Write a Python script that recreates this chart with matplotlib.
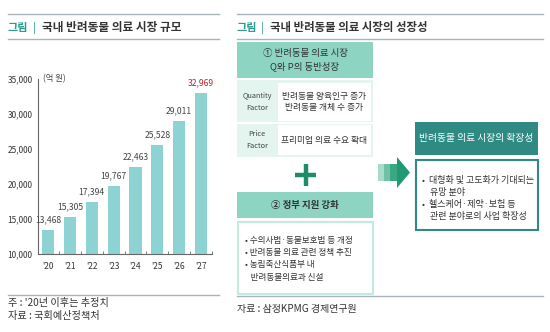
import matplotlib
matplotlib.use("Agg")
import matplotlib.pyplot as plt
from matplotlib.patches import Rectangle, Polygon

plt.rcParams['font.family'] = ['Noto Sans CJK KR', 'DejaVu Sans']

# 데이터
years = ["'20", "'21", "'22", "'23", "'24", "'25", "'26", "'27"]
market_size = [13468, 15305, 17394, 19767, 22463, 25528, 29011, 32969]
y_ticks = [10000, 15000, 20000, 25000, 30000, 35000]

bar_color = '#8DD3D3'
teal = '#2A9C92'
mint = '#8ED4C2'
mint_light = '#E4F5F0'
mint_border = '#C6E9DF'
dark_teal = '#2E8A83'
line_gray = '#A9B3B8'
txt = '#333333'

fig = plt.figure(figsize=(5.5, 3.32), dpi=100)

# 전체 캔버스 (픽셀 좌표)
bg = fig.add_axes([0, 0, 1, 1])
bg.set_xlim(0, 550)
bg.set_ylim(332, 0)
bg.axis('off')

# ---------- 왼쪽: 시장 규모 ----------
bg.plot([8, 219], [14, 14], color=line_gray, lw=1)
bg.plot([8, 219], [39, 39], color=line_gray, lw=1)
bg.text(8, 27.5, '그림', color=teal, fontsize=8, fontweight='bold', va='center')
bg.text(33, 27.5, '|', color=teal, fontsize=8, va='center')
bg.text(42, 27.5, '국내 반려동물 의료 시장 규모', color=txt, fontsize=8.4,
        fontweight='bold', va='center')
bg.plot([8, 219], [295, 295], color=line_gray, lw=1)
bg.text(8, 303, "주 : '20년 이후는 추정치", color=txt, fontsize=7.3, va='center')
bg.text(8, 316, '자료 : 국회예산정책처', color=txt, fontsize=7.3, va='center')

ax = fig.add_axes([38 / 550, 1 - 254 / 332, 174 / 550, 175 / 332])
x = list(range(len(years)))
ax.bar(x, market_size, width=0.55, color=bar_color, zorder=2)
ax.set_xlim(-0.46, 7.5)
ax.set_ylim(10000, 35000)
ax.set_yticks(y_ticks)
ax.set_yticklabels([f'{v:,}' for v in y_ticks])
ax.set_xticks(x)
ax.set_xticklabels(years)
ax.set_xticks([i + 0.5 for i in x], minor=True)
ax.tick_params(axis='x', which='major', length=0, pad=6, labelsize=6, colors=txt)
ax.tick_params(axis='x', which='minor', length=2.5, direction='in', color='#666666')
ax.tick_params(axis='y', length=0, pad=4, labelsize=6, colors=txt)
for s in ['top', 'right']:
    ax.spines[s].set_visible(False)
ax.spines['left'].set_color('#666666')
ax.spines['bottom'].set_color('#666666')
ax.spines['left'].set_linewidth(0.8)
ax.spines['bottom'].set_linewidth(0.8)
ax.patch.set_alpha(0)
for i, v in enumerate(market_size):
    c = '#B5282E' if i == len(market_size) - 1 else '#444444'
    ax.annotate(f'{v:,}', (i, v), xytext=(0, 4), textcoords='offset points',
                ha='center', va='bottom', fontsize=6.2, color=c)
ax.text(0.03, 35000, '(억 원)', fontsize=6, color='#444444', va='center',
        transform=ax.get_yaxis_transform())

# ---------- 오른쪽: 성장성 ----------
bg.plot([237, 543], [14, 14], color=line_gray, lw=1)
bg.plot([237, 543], [39, 39], color=line_gray, lw=1)
bg.text(237, 27.5, '그림', color=teal, fontsize=8, fontweight='bold', va='center')
bg.text(261, 27.5, '|', color=teal, fontsize=8, va='center')
bg.text(270, 27.5, '국내 반려동물 의료 시장의 성장성', color=txt, fontsize=8.2,
        fontweight='bold', va='center')

# ① 박스
bg.add_patch(Rectangle((237, 42), 136, 36, facecolor=mint, edgecolor='none'))
bg.text(305, 60, '① 반려동물 의료 시장\nQ와 P의 동반성장', ha='center', va='center',
        fontsize=6.8, color=txt, linespacing=1.35)

bg.add_patch(Rectangle((237, 80), 136, 77, facecolor=mint_light, edgecolor='none'))
bg.add_patch(Rectangle((278, 83), 93, 38, facecolor='white', edgecolor='none'))
bg.add_patch(Rectangle((278, 125), 93, 30, facecolor='white', edgecolor='none'))
bg.plot([237, 373], [123, 123], color='white', lw=1.5)
bg.text(257, 102, 'Quantity\nFactor', ha='center', va='center', fontsize=5.3,
        color='#444444', linespacing=1.5)
bg.text(257, 140, 'Price\nFactor', ha='center', va='center', fontsize=5.3,
        color='#444444', linespacing=1.5)
bg.text(324, 102, '반려동물 양육인구 증가\n반려동물 개체 수 증가', ha='center', va='center',
        fontsize=6.3, color=txt, linespacing=1.35)
bg.text(324, 140, '프리미엄 의료 수요 확대', ha='center', va='center', fontsize=6.3,
        color=txt)

# + 기호
bg.plot([295, 316], [175, 175], color='#1E8C68', lw=3.2, solid_capstyle='butt')
bg.plot([305.5, 305.5], [164, 186], color='#1E8C68', lw=3.2, solid_capstyle='butt')

# ② 박스
bg.add_patch(Rectangle((237, 192), 136, 26, facecolor=mint, edgecolor='none'))
bg.text(305, 205, '② 정부 지원 강화', ha='center', va='center', fontsize=6.8,
        color=txt, fontweight='bold')
bg.add_patch(Rectangle((237.5, 221.5), 135, 72, facecolor='white',
                       edgecolor=mint_border, lw=1.5))
bullets_gov = ['• 수의사법·동물보호법 등 개정', '• 반려동물 의료 관련 정책 추진',
               '• 농림축산식품부 내', '   반려동물의료과 신설']
for k, s in enumerate(bullets_gov):
    bg.text(245, 240 + k * 12.5, s, fontsize=6.2, color=txt, va='center')

# 화살표
stripes = [(378, 384, '#A8DCC8'), (384, 390, '#6FC2A4'), (390, 398, '#3AA882')]
for x0, x1, c in stripes:
    bg.add_patch(Rectangle((x0, 164), x1 - x0, 17, facecolor=c, edgecolor='none'))
bg.add_patch(Polygon([(397, 157), (410, 172.5), (397, 188)], closed=True,
                     facecolor='#1F9A72', edgecolor='none'))

# 확장성 박스
bg.add_patch(Rectangle((415, 122), 123, 33, facecolor=dark_teal, edgecolor='none'))
bg.text(476.5, 138.5, '반려동물 의료 시장의 확장성', ha='center', va='center',
        fontsize=7, color='white')
bg.add_patch(Rectangle((415.5, 159.5), 122, 70, facecolor='white',
                       edgecolor=dark_teal, lw=1.5))
bullets_ext = ['•  대형화 및 고도화가 기대되는', '    유망 분야', '•  헬스케어·제약·보험 등',
               '    관련 분야로의 사업 확장성']
for k, s in enumerate(bullets_ext):
    bg.text(422, 180 + k * 12, s, fontsize=6.5, color=txt, va='center')

bg.plot([237, 543], [296, 296], color=line_gray, lw=1)
bg.text(237, 309, '자료 : 삼정KPMG 경제연구원', color=txt, fontsize=7.2, va='center')

fig.savefig('out.png', dpi=100)
